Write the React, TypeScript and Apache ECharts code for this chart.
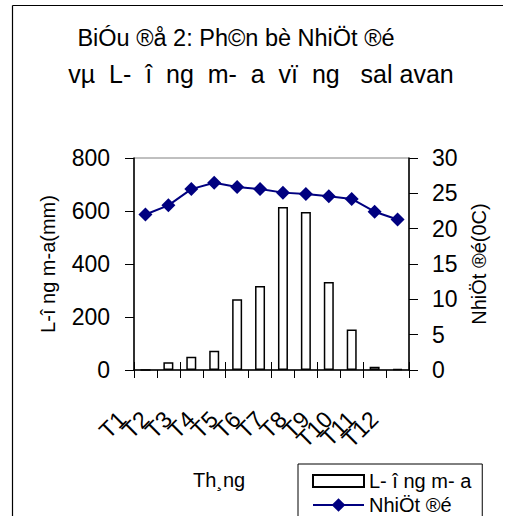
import React, { useEffect, useRef } from "react";
import * as echarts from "echarts";

const months = ["T1", "T2", "T3", "T4", "T5", "T6", "T7", "T8", "T9", "T10", "T11", "T12"];
const rainfall = [0, 29, 50, 73, 267, 317, 615, 596, 332, 153, 12, 4];
const temperature = [22.0, 23.3, 25.6, 26.5, 25.9, 25.6, 25.1, 24.9, 24.6, 24.2, 22.4, 21.3];
const rainTicks = { min: 0, max: 800, interval: 200 };
const tempTicks = { min: 0, max: 30, interval: 5 };
const NB = "\u00a0";
const titleLines = [
  "BiÓu ®å 2: Ph©n bè NhiÖt ®é",
  `vµ${NB} L-${NB} î${NB} ng${NB} m-${NB} a${NB} vï${NB} ng${NB} ${NB}sal avan`,
];
const rainName = "L- î ng m- a";
const tempName = "NhiÖt ®é";
const rainAxisName = "L-î ng m-a(mm)";
const tempAxisName = "NhiÖt ®é(0C)";
const monthAxisName = "Th¸ng";

const FONT = "'Liberation Sans', Arial, sans-serif";

export default function App() {
  const ref = useRef<HTMLDivElement>(null);
  useEffect(() => {
    if (!ref.current) return;
    const chart = echarts.init(ref.current, undefined, { renderer: "svg" });
    chart.setOption({
      animation: false,
      backgroundColor: "#fff",
      textStyle: { fontFamily: FONT },
      grid: {
        left: 134,
        right: 96,
        top: 158,
        bottom: 146,
        show: true,
        borderColor: "#808080",
        borderWidth: 1,
        containLabel: false,
      },
      graphic: [
        { type: "line", shape: { x1: 12.5, y1: 5.5, x2: 503, y2: 5.5 }, style: { stroke: "#000", lineWidth: 1.2 } },
        { type: "line", shape: { x1: 12.5, y1: 5.5, x2: 12.5, y2: 520 }, style: { stroke: "#000", lineWidth: 1.2 } },
        {
          type: "text",
          x: 236,
          y: 38,
          style: { text: titleLines[0], fontSize: 23.5, fill: "#000", textAlign: "center", textVerticalAlign: "middle", fontFamily: FONT },
        },
        {
          type: "text",
          x: 261,
          y: 74,
          style: { text: titleLines[1], fontSize: 25, fill: "#000", textAlign: "center", textVerticalAlign: "middle", fontFamily: FONT },
        },
        {
          type: "text",
          x: 193,
          y: 480,
          style: { text: monthAxisName, fontSize: 20, fill: "#000", textAlign: "left", textVerticalAlign: "middle", fontFamily: FONT },
        },
      ],
      legend: [
        {
          orient: "vertical",
          left: 298,
          top: 464,
          height: 70,
          itemWidth: 51,
          itemHeight: 12,
          itemGap: 4,
          padding: [7, 11, 31, 14],
          borderColor: "#000",
          borderWidth: 1,
          textStyle: { fontSize: 20, color: "#000", lineHeight: 20, fontFamily: FONT },
          data: [{ name: rainName, icon: "rect" }],
        },
        {
          orient: "vertical",
          left: 312,
          top: 495,
          height: 40,
          itemWidth: 51,
          itemHeight: 17,
          padding: 0,
          textStyle: { fontSize: 20, color: "#000", lineHeight: 20, fontFamily: FONT },
          data: [{ name: tempName }],
        },
      ],
      xAxis: [
        {
          type: "category",
          data: months,
          position: "bottom",
          axisLine: { lineStyle: { color: "#000", width: 1.5 } },
          axisTick: { show: true, length: 8, lineStyle: { color: "#000", width: 1 } },
          axisLabel: {
            rotate: 45,
            interval: 0,
            fontSize: 23,
            color: "#000",
            margin: 22,
            padding: [0, 33, 0, 0],
            fontFamily: FONT,
          },
          splitLine: { show: false },
        },
        {
          type: "category",
          data: months,
          position: "bottom",
          axisLine: { show: false },
          axisTick: { show: true, inside: true, length: 8, lineStyle: { color: "#000", width: 1 } },
          axisLabel: { show: false },
          splitLine: { show: false },
        },
      ],
      yAxis: [
        {
          type: "value",
          position: "left",
          min: rainTicks.min,
          max: rainTicks.max,
          interval: rainTicks.interval,
          name: rainAxisName,
          nameLocation: "middle",
          nameRotate: 90,
          nameGap: 76,
          nameTextStyle: { fontSize: 20, color: "#000", fontFamily: FONT },
          axisLine: { show: true, lineStyle: { color: "#000", width: 1.5 } },
          axisTick: { show: true, length: 9, lineStyle: { color: "#000", width: 1 } },
          axisLabel: { fontSize: 23, color: "#000", margin: 24, fontFamily: FONT },
          splitLine: { show: false },
        },
        {
          type: "value",
          position: "right",
          min: tempTicks.min,
          max: tempTicks.max,
          interval: tempTicks.interval,
          name: tempAxisName,
          nameLocation: "middle",
          nameRotate: 90,
          nameGap: 60,
          nameTextStyle: { fontSize: 20, color: "#000", fontFamily: FONT },
          axisLine: { show: true, lineStyle: { color: "#000", width: 1.5 } },
          axisTick: { show: true, length: 9, lineStyle: { color: "#000", width: 1 } },
          axisLabel: { fontSize: 23, color: "#000", margin: 23, fontFamily: FONT },
          splitLine: { show: false },
        },
      ],
      series: [
        {
          type: "bar",
          name: rainName,
          xAxisIndex: 0,
          yAxisIndex: 0,
          data: rainfall,
          barWidth: 10,
          itemStyle: { color: "#fff", borderColor: "#000", borderWidth: 1.5 },
        },
        {
          type: "line",
          name: tempName,
          xAxisIndex: 0,
          yAxisIndex: 1,
          data: temperature,
          symbol: "diamond",
          symbolSize: 14,
          lineStyle: { color: "#000080", width: 2 },
          itemStyle: { color: "#000080" },
        },
      ],
    });
    return () => chart.dispose();
  }, []);
  return <div ref={ref} style={{ position: "fixed", left: 0, top: 0, width: 505, height: 516 }} />;
}
